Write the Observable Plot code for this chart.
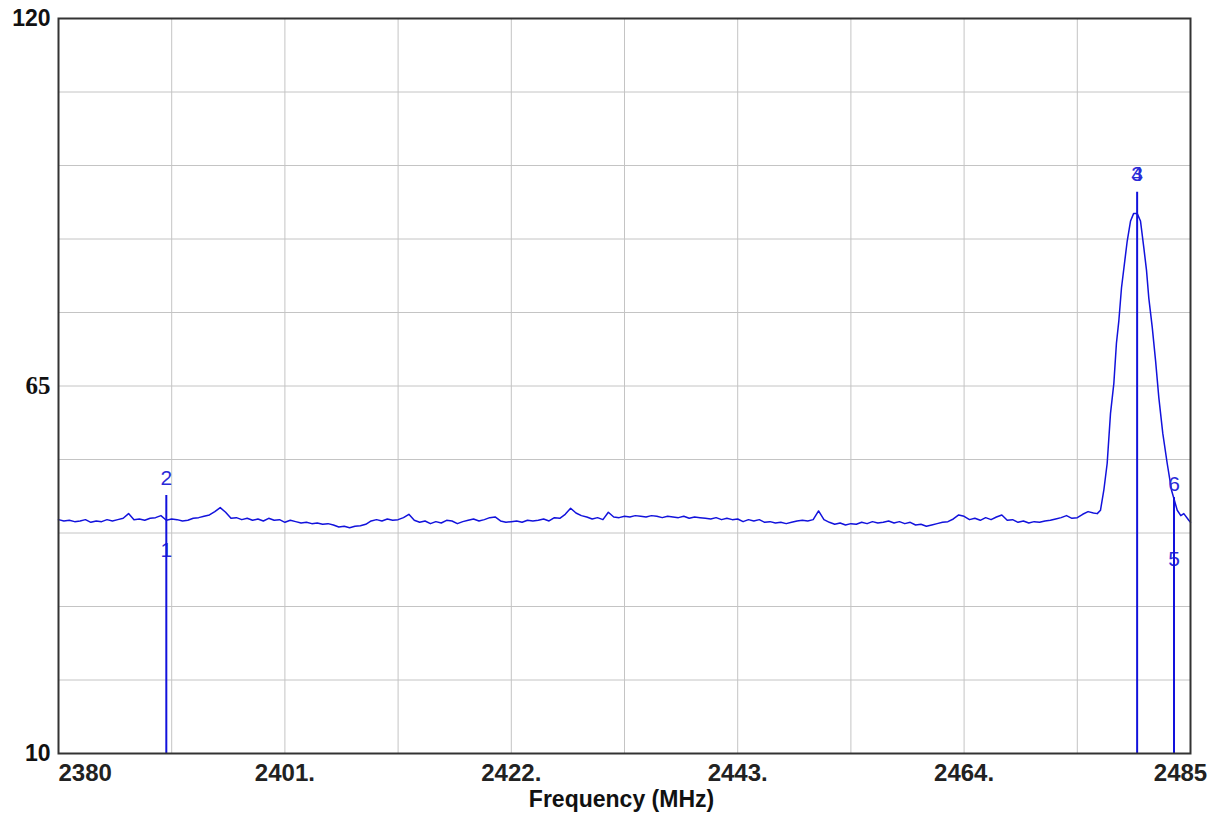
<!DOCTYPE html>
<html>
<head>
<meta charset="utf-8">
<script src="https://cdn.jsdelivr.net/npm/d3@7"></script>
<script src="https://cdn.jsdelivr.net/npm/@observablehq/plot@0.6"></script>
<style>
  html, body { margin: 0; padding: 0; background: #fff; }
</style>
</head>
<body>
<div id="chart"></div>
<script>
// ---- Trace data (dB) ----
const traceStart = 2380;      // MHz, first noise sample
const traceStep = 0.5;        // MHz between noise samples
const noiseLevel = [
  45.0, 44.8, 44.9, 44.7, 44.8, 45.0, 44.6, 44.8, 44.7, 45.0,
  44.8, 45.0, 45.2, 45.9, 45.0, 45.1, 44.9, 45.2, 45.3, 45.6,
  44.9, 45.1, 45.0, 44.8, 44.9, 45.2, 45.3, 45.5, 45.7, 46.2,
  46.8, 46.1, 45.2, 45.3, 45.0, 45.2, 44.9, 45.1, 44.8, 45.2,
  44.9, 45.0, 44.6, 44.9, 44.7, 44.5, 44.6, 44.4, 44.5, 44.3,
  44.4, 44.2, 43.9, 44.0, 43.8, 44.0, 44.1, 44.3, 44.8, 45.0,
  44.8, 45.1, 44.9, 45.0, 45.3, 45.8, 44.9, 44.6, 44.8, 44.4,
  44.7, 44.5, 44.9, 44.8, 44.4, 44.7, 44.9, 45.1, 44.8, 45.0,
  45.3, 45.4, 44.8, 44.6, 44.7, 44.8, 44.6, 44.9, 44.8, 44.9,
  45.1, 44.8, 45.3, 45.2, 45.8, 46.7, 46.0, 45.6, 45.4, 45.1,
  45.3, 45.0, 46.1, 45.4, 45.3, 45.5, 45.4, 45.6, 45.5, 45.4,
  45.6, 45.5, 45.3, 45.5, 45.4, 45.3, 45.5, 45.2, 45.4, 45.3,
  45.2, 45.1, 45.3, 45.0, 45.2, 45.0, 45.1, 44.7, 45.0, 44.8,
  45.0, 44.6, 44.7, 44.5, 44.6, 44.4, 44.6, 44.8, 44.9, 44.8,
  45.0, 46.3, 45.0, 44.6, 44.3, 44.5, 44.2, 44.4, 44.3, 44.6,
  44.4, 44.7, 44.5, 44.6, 44.8, 44.5, 44.7, 44.4, 44.6, 44.2,
  44.3, 44.0, 44.2, 44.4, 44.6, 44.7, 45.1, 45.7, 45.5, 45.0,
  45.2, 44.9, 45.3, 45.0, 45.4, 45.7, 44.9, 45.0, 44.6, 44.8,
  44.5, 44.7, 44.6, 44.8, 44.9, 45.1, 45.3, 45.6, 45.2, 45.3,
  45.8
];
// Signal peak near 2480 MHz (finer sampling)
const peakFreq = [2475.5, 2476.0, 2476.35, 2476.65, 2476.96, 2477.27, 2477.58, 2477.89, 2478.13, 2478.35,
  2478.60, 2478.91, 2479.13, 2479.44, 2479.72, 2480.06, 2480.36, 2480.67, 2480.92, 2481.13,
  2481.45, 2481.76, 2482.06, 2482.43, 2482.84, 2483.24, 2483.77, 2484.1, 2484.38, 2484.84, 2485];
const peakLevel = [46.2, 46.0, 45.9, 46.4, 49.4, 53.4, 60.9, 65.4, 71.4, 74.7,
  79.7, 83.8, 86.7, 89.7, 90.8, 90.8, 89.7, 85.7, 82.3, 78.2,
  73.8, 68.8, 63.3, 57.9, 53.4, 49.4, 46.4, 45.6, 45.9, 44.9, 44.6];

// ---- Markers ----
const markerName = ["1", "2", "3", "4", "5", "6"];
const markerFreq = [2390, 2390, 2480.05, 2480.05, 2483.47, 2483.47];
const markerLabelLevel = [40.4, 51.2, 96.7, 96.7, 39.0, 50.3];
const markerLineFreq = [2390, 2480.05, 2483.47];
const markerLineTop = [48.6, 94.0, 48.3];

// ---- Axes ----
const xDomain = [2380, 2485];
const yDomain = [10, 120];
const xGridTicks = [2390.5, 2401, 2411.5, 2422, 2432.5, 2443, 2453.5, 2464, 2474.5];
const yGridTicks = [21, 32, 43, 54, 65, 76, 87, 98, 109];
const xTickFirst = [2380];
const xTickMid = [2401, 2422, 2443, 2464];
const xTickLast = [2485];
const yTickEnds = [10, 120];
const yTickMid = [65];
const xLabel = "Frequency (MHz)";

// Build tables
const trace = noiseLevel.map((v, i) => ({f: traceStart + i * traceStep, v}))
  .concat(peakFreq.map((f, i) => ({f, v: peakLevel[i]})));
const markers = markerName.map((n, i) => ({n, f: markerFreq[i], v: markerLabelLevel[i]}));
const markerLines = markerLineFreq.map((f, i) => ({f, top: markerLineTop[i]}));

const sans = "'Liberation Sans', Arial, sans-serif";
const serif = "'Liberation Serif', 'Times New Roman', serif";
const blue = "#1212dc";
const plain = d => String(d);

const chart = Plot.plot({
  width: 1217,
  height: 817,
  marginLeft: 58,
  marginRight: 27,
  marginTop: 18,
  marginBottom: 64,
  style: {background: "#fff", fontFamily: sans, color: "#111"},
  x: {domain: xDomain, axis: null},
  y: {domain: yDomain, axis: null},
  marks: [
    Plot.gridX(xGridTicks, {stroke: "#c4c4c4", strokeOpacity: 1, strokeWidth: 1}),
    Plot.gridY(yGridTicks, {stroke: "#c4c4c4", strokeOpacity: 1, strokeWidth: 1}),
    Plot.line(trace, {x: "f", y: "v", stroke: blue, strokeWidth: 1.5}),
    Plot.text(markers, {x: "f", y: "v", text: "n", fill: "#2a2ad8", fontSize: 21, fontFamily: sans, lineAnchor: "middle"}),
    Plot.ruleX(markerLines, {x: "f", y1: yDomain[0], y2: "top", stroke: blue, strokeWidth: 2}),
    Plot.frame({stroke: "#333", strokeWidth: 2}),
    Plot.axisX(xTickFirst, {anchor: "bottom", tickSize: 0, tickPadding: 10, textAnchor: "start", tickFormat: plain,
      fontSize: 24, fontWeight: "bold", fontFamily: sans, fill: "#222", label: null}),
    Plot.axisX(xTickMid, {anchor: "bottom", tickSize: 0, tickPadding: 10, tickFormat: d => d + ".",
      fontSize: 24, fontWeight: "bold", fontFamily: sans, fill: "#222", label: null}),
    Plot.axisX(xTickLast, {anchor: "bottom", tickSize: 0, tickPadding: 10, dx: -10, tickFormat: plain,
      fontSize: 24, fontWeight: "bold", fontFamily: sans, fill: "#222", label: null}),
    Plot.axisY(yTickEnds, {anchor: "left", tickSize: 0, tickPadding: 8, tickFormat: plain,
      fontSize: 23, fontWeight: "bold", fontFamily: sans, fill: "#111", label: null}),
    Plot.axisY(yTickMid, {anchor: "left", tickSize: 0, tickPadding: 8, tickFormat: plain,
      fontSize: 25, fontWeight: "bold", fontFamily: serif, fill: "#111", label: null}),
    Plot.text([xLabel], {frameAnchor: "bottom", dy: 46, text: d => d, dx: -3,
      fontSize: 23, fontWeight: "bold", fontFamily: sans, fill: "#111", lineAnchor: "middle"})
  ]
});
document.getElementById("chart").appendChild(chart);
</script>
</body>
</html>
